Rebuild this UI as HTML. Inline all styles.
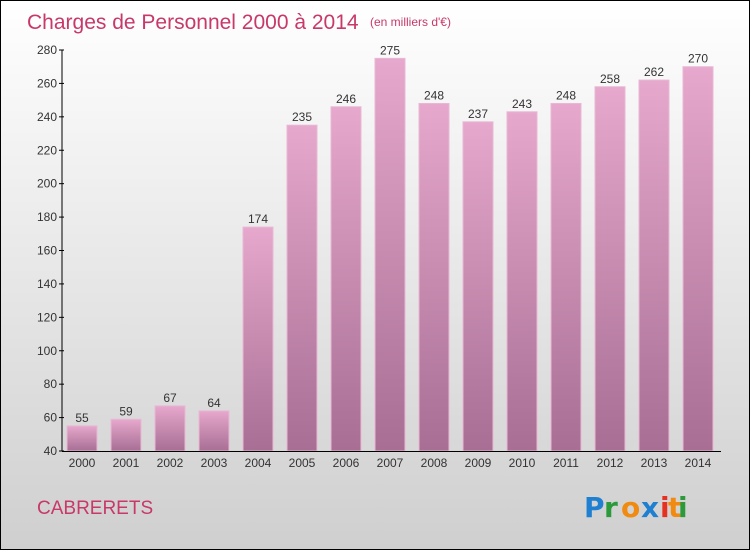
<!DOCTYPE html>
<html><head><meta charset="utf-8"><style>
body{margin:0;width:750px;height:550px;overflow:hidden;font-family:"Liberation Sans",sans-serif}
#c{position:absolute;left:0;top:0;width:748px;height:548px;border:1px solid #000;background:linear-gradient(#ffffff,#cfcfcf)}
</style></head><body>
<div id="c">
<svg width="748" height="548">
<defs><linearGradient id="g" x1="0" y1="0" x2="0" y2="1"><stop offset="0" stop-color="#e6a8cc"/><stop offset="1" stop-color="#a86e94"/></linearGradient></defs>
<text x="26" y="28" font-size="21" fill="#c8386a">Charges de Personnel 2000 à 2014</text>
<text x="369" y="25" font-size="12" fill="#c8386a">(en milliers d'€)</text>
<text x="36" y="513" font-size="19" fill="#c8386a">CABRERETS</text>
<g font-size="28" font-weight="bold" font-family="'DejaVu Sans',sans-serif">
<text x="583" y="516" fill="#1f7fd0">P</text><text x="603" y="516" fill="#2a9a3a">r</text><text x="620" y="516" fill="#f08a10">o</text><text x="640" y="516" fill="#1f7fd0">x</text><text x="659" y="516" fill="#e63020">i</text><text x="667" y="516" fill="#f08a10">t</text><text x="677" y="516" fill="#2a9a3a">i</text>
</g>
<g id="plot"></g>
</svg></div>
<script>
const years=["2000","2001","2002","2003","2004","2005","2006","2007","2008","2009","2010","2011","2012","2013","2014"];
const values=[55,59,67,64,174,235,246,275,248,237,243,248,258,262,270];
const ticks=[40,60,80,100,120,140,160,180,200,220,240,260,280];
const ns="http://www.w3.org/2000/svg",p=document.getElementById('plot');
const y=v=>450-(v-40)*(401/240);
const x=i=>66+i*44;
function mk(t,a,par){const e=document.createElementNS(ns,t);for(const k in a)e.setAttribute(k,a[k]);(par||p).appendChild(e);return e;}
values.forEach((v,i)=>{
 const r=mk('rect',{x:x(i),y:y(v),width:30,height:450-y(v),fill:'url(#g)',stroke:'#e8b8d4','stroke-width':1});
 
 
 const t=mk('text',{x:x(i)+15,y:y(v)-4,'font-size':12,'text-anchor':'middle',fill:'#333'});t.textContent=v;
 
 
 const xl=mk('text',{x:x(i)+15,y:466,'font-size':12,'text-anchor':'middle',fill:'#333'});xl.textContent=years[i];
 
 
});
ticks.forEach(v=>{
 mk('line',{x1:58,x2:63,y1:y(v),y2:y(v),stroke:'#000'});
 const t=mk('text',{x:56,y:y(v)+4,'font-size':12,'text-anchor':'end',fill:'#333'});t.textContent=v;
 
 
});
const ya=mk('line',{x1:61,x2:61,y1:y(280),y2:450,stroke:'#000'});


const xa=mk('line',{x1:61,x2:720,y1:450.5,y2:450.5,stroke:'#000'});


</script>
</body></html>
